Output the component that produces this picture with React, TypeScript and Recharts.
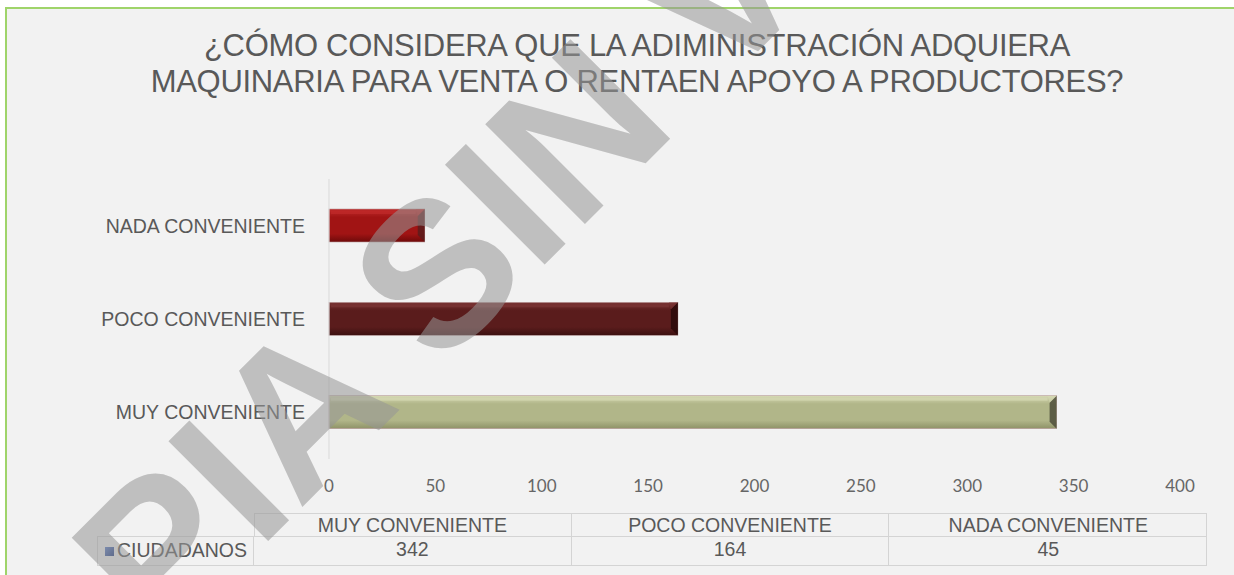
import { BarChart, Bar, XAxis, YAxis, Cell } from "recharts";

// data in table order (left to right)
const CATEGORIES = ["MUY CONVENIENTE", "POCO CONVENIENTE", "NADA CONVENIENTE"];
const CIUDADANOS = [342, 164, 45];
const X_TICKS = [0, 50, 100, 150, 200, 250, 300, 350, 400];
const SERIES_NAME = "CIUDADANOS";
const TITLE_LINES = [
  "¿CÓMO CONSIDERA QUE LA ADIMINISTRACIÓN ADQUIERA",
  "MAQUINARIA PARA VENTA O RENTAEN APOYO A PRODUCTORES?",
];
const WATERMARK = "COPIA SIN VALOR";

// top / mid / bottom / end-bevel
const BAR_STYLES = [
  { top: "#d6d9b4", mid: "#b1b689", bottom: "#8e9267", end: "#4d4d3a" },
  { top: "#7a3434", mid: "#5a1c1c", bottom: "#3c1010", end: "#2a0808" },
  { top: "#c02a2a", mid: "#a11414", bottom: "#6e0a0a", end: "#5a1c1c" },
];

const data = CATEGORIES.map((name, i) => ({ name, value: CIUDADANOS[i] }));

const ARIAL = "'Liberation Sans', Arial, sans-serif";
const GREY = "#595959";

function BevelBar(props: any) {
  const { x, y, width, height, index } = props;
  if (!width || width <= 0) return null;
  const s = BAR_STYLES[index];
  const b = Math.min(7, height / 4);
  return (
    <g>
      <rect x={x} y={y} width={width} height={height} fill={`url(#barGrad${index})`} stroke="#b89a9a" strokeWidth={0.6} />
      <rect x={x + 2} y={y + 2} width={Math.max(0, width - b - 4)} height={3} fill={s.top} opacity={0.7} />
      <polygon
        points={`${x + width - b},${y + b} ${x + width},${y} ${x + width},${y + height} ${x + width - b},${y + height - b}`}
        fill={s.end}
        opacity={0.85}
      />
      <polygon
        points={`${x + width - b},${y + b} ${x + width},${y} ${x + width - b - 2},${y} `}
        fill={s.top}
        opacity={0.5}
      />
    </g>
  );
}

export default function App() {
  const colW = 317.7;
  const tableLeft = 254;
  const labelLeft = 97;
  return (
    <div style={{ position: "absolute", left: 0, top: 0, width: 1234, height: 575, background: "#ffffff", overflow: "hidden" }}>
      <div
        style={{
          position: "absolute",
          left: 5,
          top: 7,
          width: 1240,
          height: 580,
          background: "#f2f2f2",
          borderTop: "2px solid #9fd46a",
          borderLeft: "2px solid #9fd46a",
        }}
      />
      <div style={{ position: "absolute", left: 0, top: 28, width: 1274, textAlign: "center", fontFamily: ARIAL, fontSize: 31, color: GREY, lineHeight: "36px", letterSpacing: -0.3 }}>
        {TITLE_LINES.map((t) => (
          <div key={t}>{t}</div>
        ))}
      </div>

      <div style={{ position: "absolute", left: 0, top: 0 }}>
        <BarChart
          width={1234}
          height={575}
          data={data}
          layout="vertical"
          margin={{ top: 179, right: 54, bottom: 0, left: 0 }}
          barCategoryGap={0}
        >
          <defs>
            {BAR_STYLES.map((s, i) => (
              <linearGradient key={i} id={`barGrad${i}`} x1="0" y1="0" x2="0" y2="1">
                <stop offset="0%" stopColor={s.top} />
                <stop offset="25%" stopColor={s.mid} />
                <stop offset="75%" stopColor={s.mid} />
                <stop offset="100%" stopColor={s.bottom} />
              </linearGradient>
            ))}
          </defs>
          <XAxis
            type="number"
            domain={[0, 400]}
            ticks={X_TICKS}
            axisLine={false}
            tickLine={false}
            tickSize={0}
            tickMargin={21}
            height={116}
            interval={0}
            tick={{ fill: "#666666", fontSize: 17, fontFamily: "Lato, sans-serif" }}
          />
          <YAxis
            type="category"
            dataKey="name"
            reversed
            width={329}
            axisLine={{ stroke: "#d9d9d9" }}
            tickLine={false}
            tickSize={0}
            tickMargin={24}
            tick={{ fill: GREY, fontSize: 19.5, fontFamily: ARIAL }}
          />
          <Bar dataKey="value" barSize={33} isAnimationActive={false} shape={<BevelBar />}>
            {data.map((d, i) => (
              <Cell key={d.name} fill={BAR_STYLES[i].mid} />
            ))}
          </Bar>
        </BarChart>
      </div>

      {/* data table */}
      <div style={{ position: "absolute", left: 0, top: 0, fontFamily: ARIAL, fontSize: 19.5, color: GREY }}>
        <div style={{ position: "absolute", left: tableLeft, top: 513, width: colW * 3, height: 24, border: "1px solid #d4d4d4", boxSizing: "border-box" }} />
        {CATEGORIES.map((c, i) => (
          <div
            key={c}
            style={{
              position: "absolute",
              left: tableLeft + colW * i,
              top: 513,
              width: colW,
              height: 24,
              lineHeight: "24px",
              textAlign: "center",
              borderRight: i < 2 ? "1px solid #d4d4d4" : "none",
              boxSizing: "border-box",
            }}
          >
            {c}
          </div>
        ))}
        <div style={{ position: "absolute", left: labelLeft, top: 536, width: tableLeft + colW * 3 - labelLeft, height: 30, border: "1px solid #d4d4d4", boxSizing: "border-box" }} />
        <div style={{ position: "absolute", left: labelLeft, top: 536, width: tableLeft - labelLeft, height: 30, lineHeight: "28px", borderRight: "1px solid #d4d4d4", boxSizing: "border-box", whiteSpace: "nowrap" }}>
          <span style={{ display: "inline-block", width: 9, height: 9, marginLeft: 8, marginRight: 3, background: "linear-gradient(135deg,#5d7fc8,#1f3a80)", verticalAlign: 1 }} />
          {SERIES_NAME}
        </div>
        {CIUDADANOS.map((v, i) => (
          <div
            key={CATEGORIES[i]}
            style={{
              position: "absolute",
              left: tableLeft + colW * i,
              top: 536,
              width: colW,
              height: 30,
              lineHeight: "26px",
              textAlign: "center",
              borderRight: i < 2 ? "1px solid #d4d4d4" : "none",
              boxSizing: "border-box",
            }}
          >
            {v}
          </div>
        ))}
      </div>

      {/* watermark */}
      <svg width={1234} height={575} style={{ position: "absolute", left: 0, top: 0, pointerEvents: "none" }}>
        <text
          x={530}
          y={178}
          textAnchor="middle"
          dominantBaseline="central"
          transform="rotate(-45 530 178)"
          fontFamily={ARIAL}
          fontWeight="bold"
          fontSize={205}
          fill="rgb(150,150,150)"
          fillOpacity={0.55}
        >
          {WATERMARK}
        </text>
      </svg>
    </div>
  );
}
